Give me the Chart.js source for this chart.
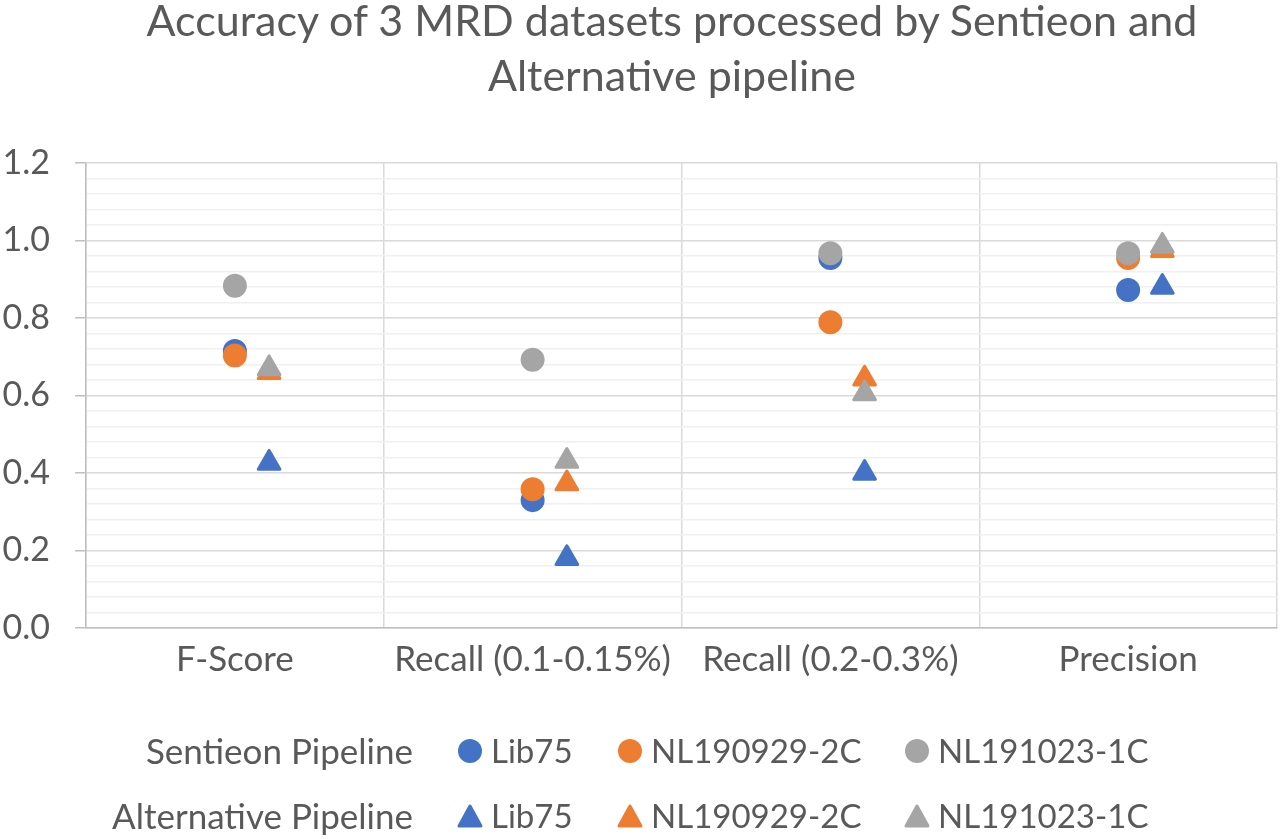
<!DOCTYPE html>
<html>
<head>
<meta charset="utf-8">
<script src="https://cdn.jsdelivr.net/npm/chart.js@4.4.0/dist/chart.umd.min.js"></script>
<style>
  html, body { margin: 0; padding: 0; background: #ffffff; }
  #wrap { position: relative; width: 1280px; height: 839px; font-family: Lato, "Open Sans", sans-serif; color: #595959; overflow: hidden; }
  #title { position: absolute; left: 62px; width: 1220px; top: -8px; text-align: center; font-size: 43px; line-height: 55px; }
  #chart { position: absolute; left: 0; top: 0; }
  .lg { position: absolute; font-size: 33px; line-height: 40px; white-space: nowrap; }
  .lg.row-label { text-align: right; width: 400px; font-size: 35px; }
  .mk { position: absolute; }
</style>
</head>
<body>
<div id="wrap">
  <canvas id="chart" width="1280" height="839"></canvas>
  <div id="title"></div>
  <div id="legend"></div>
</div>
<script>
// ---- data ----
const chartTitle = ['Accuracy of 3 MRD datasets processed by Sentieon and', 'Alternative pipeline'];
const categories = ['F-Score', 'Recall (0.1-0.15%)', 'Recall (0.2-0.3%)', 'Precision'];
const pipelines = ['Sentieon Pipeline', 'Alternative Pipeline'];
const samples = ['Lib75', 'NL190929-2C', 'NL191023-1C'];

const sentieonLib75      = [0.715, 0.330, 0.955, 0.872];
const sentieonNL190929   = [0.703, 0.358, 0.789, 0.955];
const sentieonNL191023   = [0.883, 0.692, 0.967, 0.967];
const alternativeLib75    = [0.426, 0.180, 0.400, 0.880];
const alternativeNL190929 = [0.660, 0.373, 0.643, 0.975];
const alternativeNL191023 = [0.670, 0.431, 0.605, 0.986];

const yMin = 0, yMax = 1.2, yMajorStep = 0.2, yMinorStep = 0.04;

// ---- styles ----
const colors = ['#4472C4', '#ED7D31', '#A5A5A5'];
const altOffset = 0.115;

document.getElementById('title').innerHTML = chartTitle.join('<br>');

const seriesSets = [
  { pipeline: 0, sample: 0, values: sentieonLib75 },
  { pipeline: 0, sample: 1, values: sentieonNL190929 },
  { pipeline: 0, sample: 2, values: sentieonNL191023 },
  { pipeline: 1, sample: 0, values: alternativeLib75 },
  { pipeline: 1, sample: 1, values: alternativeNL190929 },
  { pipeline: 1, sample: 2, values: alternativeNL191023 }
];

const datasets = seriesSets.map((s, idx) => ({
  label: pipelines[s.pipeline] + ' ' + samples[s.sample],
  data: s.values.map((v, i) => ({ x: i + 1 + (s.pipeline === 1 ? altOffset : 0), y: v })),
  pointStyle: s.pipeline === 0 ? 'circle' : 'triangle',
  pointRadius: s.pipeline === 0 ? 11 : 12.5,
  pointBorderWidth: s.pipeline === 0 ? 2 : 3,
  backgroundColor: colors[s.sample],
  borderColor: colors[s.sample],
  pointHoverRadius: s.pipeline === 0 ? 11 : 12.5,
  showLine: false,
  order: seriesSets.length - idx
}));

const isMajor = v => Math.abs(v / yMajorStep - Math.round(v / yMajorStep)) < 1e-6;

const roundJoin = {
  id: 'roundJoin',
  beforeDatasetsDraw(chart) { chart.ctx.lineJoin = 'round'; }
};

new Chart(document.getElementById('chart'), {
  type: 'scatter',
  data: { datasets },
  plugins: [roundJoin],
  options: {
    responsive: false,
    animation: false,
    devicePixelRatio: 1,
    layout: { autoPadding: false, padding: { top: 163, right: 3, left: 0, bottom: 0 } },
    plugins: { legend: { display: false }, tooltip: { enabled: false }, title: { display: false } },
    scales: {
      x: {
        type: 'linear',
        min: 0.5,
        max: categories.length + 0.5,
        afterBuildTicks(scale) {
          const t = [];
          for (let i = 0; i <= categories.length * 2; i++) t.push({ value: 0.5 + i * 0.5 });
          scale.ticks = t;
        },
        afterFit(scale) { scale.height = 211; scale.paddingRight = 0; scale.paddingLeft = 0; },
        ticks: {
          autoSkip: false,
          maxRotation: 0,
          padding: 11,
          color: '#595959',
          font: { family: 'Lato', size: 35 },
          callback(v) { return Number.isInteger(v) ? categories[v - 1] : ''; }
        },
        grid: {
          drawTicks: false,
          lineWidth: 1.5,
          color(ctx) {
            const v = ctx.tick ? ctx.tick.value : 0;
            return Number.isInteger(v) ? 'rgba(0,0,0,0)' : '#d9d9d9';
          }
        },
        border: { display: true, color: '#bfbfbf', width: 1.5 }
      },
      y: {
        min: yMin,
        max: yMax,
        afterBuildTicks(scale) {
          const t = [];
          const n = Math.round((yMax - yMin) / yMinorStep);
          for (let i = 0; i <= n; i++) t.push({ value: Math.round((yMin + i * yMinorStep) * 1000) / 1000 });
          scale.ticks = t;
        },
        afterFit(scale) { scale.width = 86; },
        ticks: {
          autoSkip: false,
          padding: 25,
          color: '#595959',
          font: { family: 'Lato', size: 34 },
          callback(v) { return isMajor(v) ? v.toFixed(1) : ''; }
        },
        grid: {
          tickLength: 11,
          lineWidth: 1.5,
          color(ctx) { return isMajor(ctx.tick.value) ? '#d9d9d9' : '#f0f0f0'; },
          tickColor(ctx) { return isMajor(ctx.tick.value) ? '#bfbfbf' : 'rgba(0,0,0,0)'; }
        },
        border: { display: true, color: '#bfbfbf', width: 1.5 }
      }
    }
  }
});

// ---- legend (real text) ----
const legend = document.getElementById('legend');
const rowY = [751, 816];
const markerX = [470, 630, 917];
function markerSvg(shape, color, cx, cy) {
  const s = 28;
  let inner;
  if (shape === 'circle') inner = `<circle cx="14" cy="14" r="12" fill="${color}"/>`;
  else inner = `<polygon points="14,4 25,24 3,24" fill="${color}" stroke="${color}" stroke-width="3" stroke-linejoin="round"/>`;
  return `<svg class="mk" width="${s}" height="${s}" style="left:${cx - 14}px;top:${cy - 14}px">${inner}</svg>`;
}
let html = '';
pipelines.forEach((p, r) => {
  html += `<div class="lg row-label" style="left:${413 - 400}px;top:${rowY[r] - 21}px">${p}</div>`;
  samples.forEach((s, k) => {
    html += markerSvg(r === 0 ? 'circle' : 'triangle', colors[k], markerX[k], rowY[r]);
    html += `<div class="lg" style="left:${markerX[k] + 21}px;top:${rowY[r] - 21}px">${s}</div>`;
  });
});
legend.innerHTML = html;
</script>
</body>
</html>
